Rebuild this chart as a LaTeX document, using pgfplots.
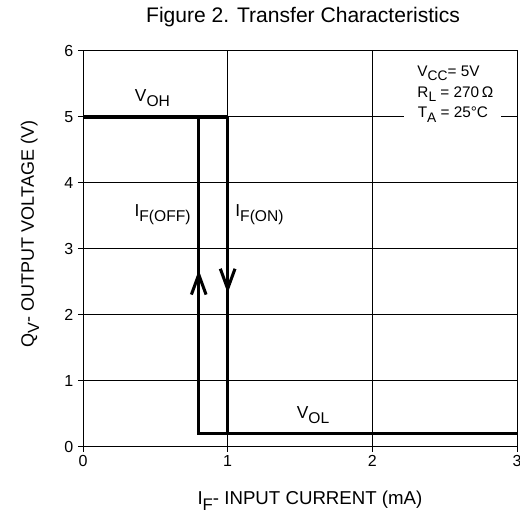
\documentclass[border=0pt]{standalone}
\usepackage{pgfplots}
\pgfplotsset{compat=1.18}
\usepackage{graphicx}
\usepackage{fontspec}
\setmainfont{Liberation Sans}
\usetikzlibrary{arrows.meta}
\newcommand{\sub}[1]{\raisebox{-0.55ex}{\scalebox{0.9}{#1}}}
\begin{document}
\begin{tikzpicture}
\begin{axis}[
  scale only axis,
  width=325.5pt, height=297pt,
  xmin=0, xmax=3, ymin=0, ymax=6,
  xtick={0,1,2,3}, ytick={0,1,2,3,4,5,6},
  grid=major,
  major grid style={black, line width=0.75pt},
  axis line style={black, line width=0.75pt},
  tick style={black, line width=0.75pt},
  tick align=outside,
  major tick length=3.75pt,
  xtick pos=bottom, ytick pos=left,
  /pgf/number format/assume math mode=true,
  tick label style={font=\fontsize{12}{14}\selectfont},
  xticklabel style={yshift=1pt},
  xlabel={I\sub{F}- INPUT CURRENT (mA)},
  xlabel style={font=\fontsize{14}{16}\selectfont, at={(axis description cs:0.523,-0.136)}, anchor=center},
  ylabel={Q\sub{V}- OUTPUT VOLTAGE (V)},
  ylabel style={font=\fontsize{13.5}{16}\selectfont, at={(axis description cs:-0.122,0.538)}, anchor=center, rotate=0},
  clip=false,
]
\coordinate (SW) at (rel axis cs:0,0);
\coordinate (NE) at (rel axis cs:1,1);
\addplot[black, line width=2.5pt] coordinates {(0,5) (1,5)};
\addplot[black, line width=2.5pt] coordinates {(0.8,5) (0.8,0.2) (3,0.2)};
\addplot[black, line width=2.5pt] coordinates {(1,5) (1,0.2)};
\addplot[black, line width=2.5pt, -{Straight Barb[length=15pt, width=11pt, line width=2.3pt]}] coordinates {(0.8,2.1) (0.8,2.68)};
\addplot[black, line width=2.5pt, -{Straight Barb[length=15pt, width=11pt, line width=2.3pt]}] coordinates {(1,2.9) (1,2.33)};
\node[font=\fontsize{15.8}{18}\selectfont] at (rel axis cs:0.507,1.086) {Figure 2. Transfer Characteristics};
\node[font=\fontsize{13}{15}\selectfont] at (axis cs:0.48,5.29) {V\sub{OH}};
\node[font=\fontsize{13}{15}\selectfont] at (axis cs:0.55,3.52) {I\sub{F(OFF)}};
\node[font=\fontsize{13}{15}\selectfont] at (axis cs:1.22,3.52) {I\sub{F(ON)}};
\node[font=\fontsize{13}{15}\selectfont] at (axis cs:1.59,0.48) {V\sub{OL}};
\node[font=\fontsize{11.5}{13}\selectfont, inner xsep=0pt, anchor=base west] at (axis cs:2.31,5.62) {V\sub{CC}= 5V};
\node[font=\fontsize{11.5}{13}\selectfont, inner xsep=0pt, anchor=base west] at (axis cs:2.31,5.30) {R\sub{L} = 270\,Ω};
\node[font=\fontsize{11.5}{13}\selectfont, fill=white, inner xsep=10pt, inner ysep=3pt, anchor=base west] at (axis cs:2.22,4.99) {T\sub{A} = 25°C};
\end{axis}
\pgfresetboundingbox
\path ([xshift=-62.25pt,yshift=-51pt]SW) rectangle ([xshift=2.25pt,yshift=38.25pt]NE);
\end{tikzpicture}
\end{document}
